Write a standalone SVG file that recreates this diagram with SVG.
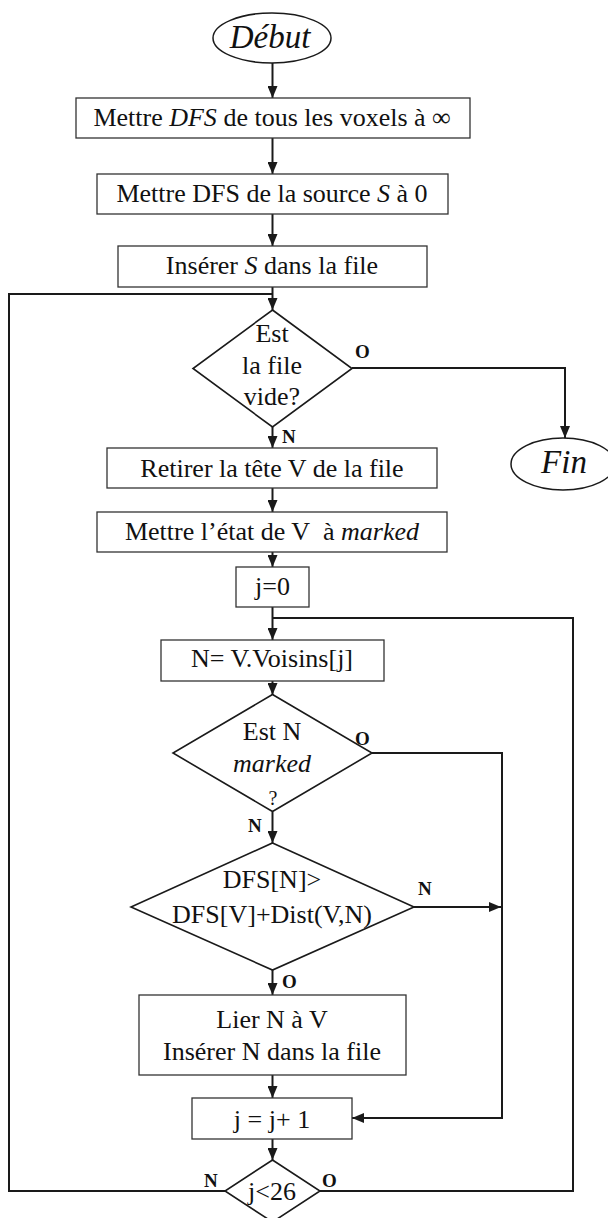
<svg xmlns="http://www.w3.org/2000/svg" width="608" height="1218" viewBox="0 0 608 1218">
<style>
.bg{fill:#fff}
.box{fill:#fff;stroke:#333;stroke-width:1.3}
.dia{fill:#fff;stroke:#1a1a1a;stroke-width:1.6}
.ell{fill:#fff;stroke:#1a1a1a;stroke-width:1.5}
.t{font-family:"Liberation Serif","Times New Roman",serif;font-size:26px;fill:#111;text-anchor:middle}
.big{font-size:33px;font-style:italic}
.i{font-style:italic}
.lbl{font-family:"Liberation Serif","Times New Roman",serif;font-size:19px;font-weight:bold;fill:#111}
.c{fill:none;stroke:#1a1a1a;stroke-width:2}
.ca{fill:none;stroke:#1a1a1a;stroke-width:2;marker-end:url(#ah)}
</style>
<defs>
<marker id="ah" markerUnits="userSpaceOnUse" markerWidth="12" markerHeight="10" refX="12" refY="5" orient="auto">
<path d="M0,0 L12,5 L0,10 z" fill="#1a1a1a"/>
</marker>
</defs>
<rect class="bg" x="0" y="0" width="608" height="1218"/>

<g id="connectors">
<path class="ca" d="M272.5,63 V98"/>
<path class="ca" d="M272.5,138 V174"/>
<path class="ca" d="M272.5,214 V246"/>
<path class="ca" d="M272.5,287 V310"/>
<path class="c" d="M225,1191 H9 V294 H272.5"/>
<path class="ca" d="M272.5,427 V448"/>
<path class="ca" d="M352,368 H565 V438"/>
<path class="ca" d="M272.5,488 V512"/>
<path class="ca" d="M272.5,552 V567"/>
<path class="ca" d="M272.5,607 V640"/>
<path class="c" d="M320,1191 H573 V618 H272.5"/>
<path class="ca" d="M272.5,681 V695"/>
<path class="ca" d="M272.5,812 V843"/>
<path class="ca" d="M372,753 H502 V1118 H352"/>
<path class="ca" d="M414,907 H501"/>
<path class="ca" d="M272.5,970 V995"/>
<path class="ca" d="M272.5,1075 V1098"/>
<path class="ca" d="M272.5,1139 V1160"/>
<text class="lbl" x="282" y="443">N</text>
<text class="lbl" x="355" y="358">O</text>
<text class="lbl" x="355" y="745">O</text>
<text class="lbl" x="248" y="832">N</text>
<text class="lbl" x="418" y="895">N</text>
<text class="lbl" x="282" y="988">O</text>
<text class="lbl" x="204" y="1187">N</text>
<text class="lbl" x="322" y="1187">O</text>
</g>

<g id="debut">
<ellipse class="ell" cx="272" cy="38" rx="59" ry="25"/>
<text class="t big" x="270" y="48">Début</text>
</g>

<g id="init-dfs">
<rect class="box" x="76" y="98" width="394" height="40"/>
<text class="t" x="272" y="126">Mettre <tspan class="i">DFS</tspan> de tous les voxels à ∞</text>
</g>

<g id="init-source">
<rect class="box" x="97" y="174" width="351" height="40"/>
<text class="t" x="272" y="202">Mettre DFS de la source <tspan class="i">S</tspan> à 0</text>
</g>

<g id="insert-s">
<rect class="box" x="118" y="246" width="309" height="41"/>
<text class="t" x="272" y="274">Insérer <tspan class="i">S</tspan> dans la file</text>
</g>

<g id="file-vide">
<polygon class="dia" points="272.5,310 352,368.5 272.5,427 193,368.5"/>
<text class="t" x="272" y="342">Est</text>
<text class="t" x="272" y="374">la file</text>
<text class="t" x="272" y="405">vide?</text>
</g>

<g id="fin">
<ellipse class="ell" cx="563" cy="464" rx="52" ry="26"/>
<text class="t big" x="564" y="473">Fin</text>
</g>

<g id="retirer">
<rect class="box" x="107" y="448" width="330" height="40"/>
<text class="t" x="272" y="477">Retirer la tête V de la file</text>
</g>

<g id="marquer">
<rect class="box" x="97" y="512" width="350" height="40"/>
<text class="t" x="272" y="540">Mettre l’état de V&#160; à <tspan class="i">marked</tspan></text>
</g>

<g id="j0">
<rect class="box" x="236" y="567" width="73" height="40"/>
<text class="t" x="272.5" y="595">j=0</text>
</g>

<g id="voisin">
<rect class="box" x="161" y="640" width="223" height="41"/>
<text class="t" x="272" y="667">N= V.Voisins[j]</text>
</g>

<g id="est-marked">
<polygon class="dia" points="272.5,694.5 372,753 272.5,811.5 173,753"/>
<text class="t" x="272" y="740">Est N</text>
<text class="t i" x="272" y="772">marked</text>
<text class="t" x="273" y="805" style="font-size:20px">?</text>
</g>

<g id="compare-dfs">
<polygon class="dia" points="272.5,843 414,907 272.5,970 131,907"/>
<text class="t" x="272" y="888">DFS[N]&gt;</text>
<text class="t" x="272" y="923">DFS[V]+Dist(V,N)</text>
</g>

<g id="lier">
<rect class="box" x="139" y="995" width="267" height="80"/>
<text class="t" x="272" y="1028">Lier N à V</text>
<text class="t" x="272" y="1060">Insérer N dans la file</text>
</g>

<g id="incr">
<rect class="box" x="192" y="1098" width="160" height="41"/>
<text class="t" x="272" y="1128">j = j+ 1</text>
</g>

<g id="test-j">
<polygon class="dia" points="272.5,1160 320,1191 272.5,1222 225,1191"/>
<text class="t" x="272" y="1200">j&lt;26</text>
</g>
</svg>
